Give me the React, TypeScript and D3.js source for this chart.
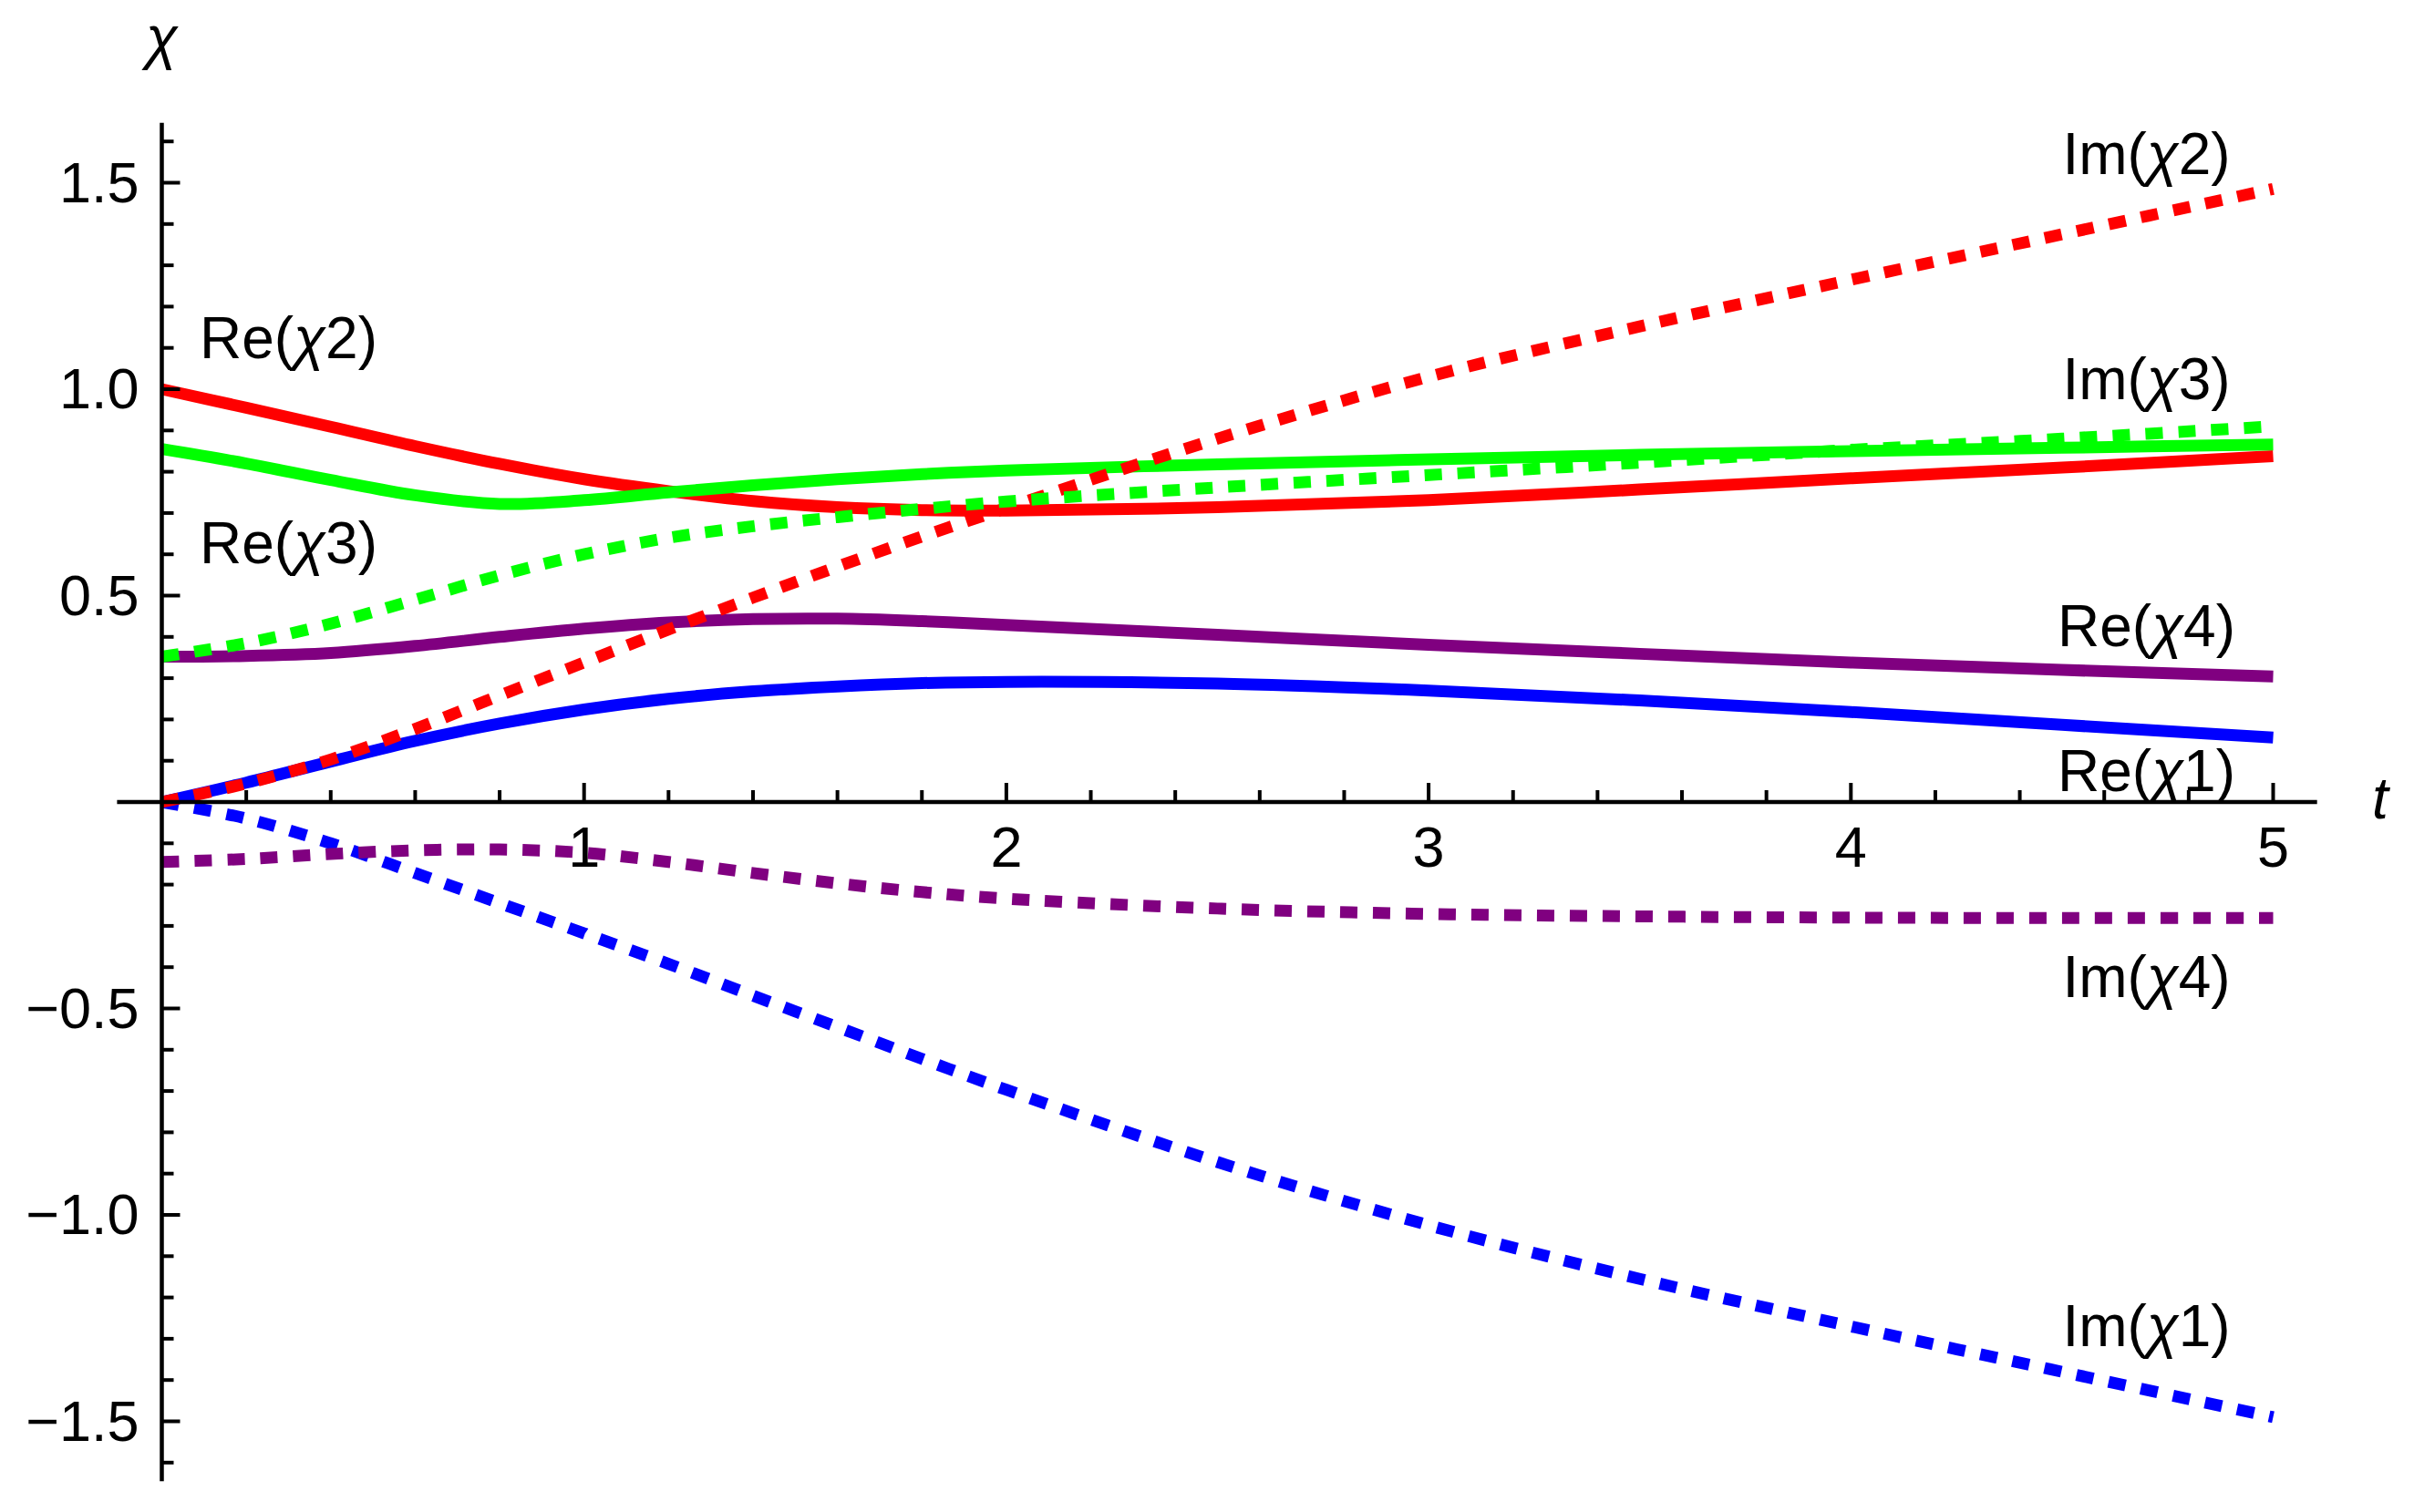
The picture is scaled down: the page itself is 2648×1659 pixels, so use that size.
import React from "react";
import * as d3 from "d3";

// time grid shared by every curve
const tGrid = [0, 0.2, 0.4, 0.6, 0.8, 1.0, 1.2, 1.4, 1.6, 1.8, 2.0, 2.5, 3.0, 3.5, 4.0, 4.5, 5.0];

const reChi1 = [0, 0.047, 0.098, 0.148, 0.19, 0.224, 0.25, 0.268, 0.28, 0.288, 0.291, 0.287, 0.27, 0.246, 0.218, 0.187, 0.156];
const imChi1 = [0, -0.04, -0.1, -0.172, -0.245, -0.318, -0.392, -0.469, -0.545, -0.622, -0.697, -0.872, -1.025, -1.155, -1.27, -1.38, -1.49];
const reChi2 = [1.0, 0.955, 0.909, 0.862, 0.819, 0.782, 0.753, 0.729, 0.714, 0.707, 0.706, 0.714, 0.731, 0.757, 0.784, 0.81, 0.838];
const imChi2 = [0, 0.045, 0.103, 0.177, 0.258, 0.338, 0.418, 0.495, 0.57, 0.643, 0.712, 0.88, 1.03, 1.152, 1.265, 1.375, 1.485];
const reChi3 = [0.855, 0.82, 0.78, 0.743, 0.722, 0.731, 0.75, 0.767, 0.782, 0.794, 0.803, 0.818, 0.83, 0.841, 0.85, 0.858, 0.866];
const imChi3 = [0.352, 0.385, 0.432, 0.49, 0.549, 0.6, 0.64, 0.668, 0.69, 0.71, 0.728, 0.762, 0.792, 0.822, 0.853, 0.88, 0.91];
const reChi4 = [0.352, 0.354, 0.361, 0.378, 0.4, 0.42, 0.435, 0.443, 0.444, 0.438, 0.429, 0.405, 0.381, 0.359, 0.338, 0.32, 0.304];
const imChi4 = [-0.145, -0.138, -0.126, -0.117, -0.115, -0.123, -0.145, -0.172, -0.197, -0.218, -0.234, -0.258, -0.271, -0.277, -0.28, -0.281, -0.281];

// drawing order: real parts first, then imaginary parts
const series = [
  { name: "Re1", values: reChi1, color: "#0000FF", dashed: false },
  { name: "Re2", values: reChi2, color: "#FF0000", dashed: false },
  { name: "Re3", values: reChi3, color: "#00FF00", dashed: false },
  { name: "Re4", values: reChi4, color: "#800080", dashed: false },
  { name: "Im1", values: imChi1, color: "#0000FF", dashed: true },
  { name: "Im2", values: imChi2, color: "#FF0000", dashed: true },
  { name: "Im3", values: imChi3, color: "#00FF00", dashed: true },
  { name: "Im4", values: imChi4, color: "#800080", dashed: true },
];

// curve labels: prefix, index, position (t, value at baseline)
const labelPrefix = ["Re", "Re", "Im", "Im", "Re", "Re", "Im", "Im"];
const labelIndex = ["2", "3", "2", "3", "4", "1", "4", "1"];
const labelT = [0.3, 0.3, 4.7, 4.7, 4.7, 4.7, 4.7, 4.7];
const labelY = [1.075, 0.578, 1.521, 0.976, 0.377, 0.026, -0.472, -1.318];

const xMajor = [1, 2, 3, 4, 5];
const yMajor = [-1.5, -1.0, -0.5, 0.5, 1.0, 1.5];

const W = 2648;
const H = 1659;
const FONT = "'Liberation Sans', Arial, sans-serif";

export default function App() {
  const x = d3.scaleLinear().domain([0, 5]).range([177.5, 2493.5]);
  const y = d3.scaleLinear().domain([0, 1]).range([880, 427]);

  const line = d3
    .line<[number, number]>()
    .x((d) => x(d[0]))
    .y((d) => y(d[1]))
    .curve(d3.curveCatmullRom.alpha(0.5));

  const xMinor = d3.range(1, 26).map((i) => +(i * 0.2).toFixed(1));
  const yMinor = d3.range(-16, 17).filter((i) => i !== 0).map((i) => +(i * 0.1).toFixed(1));
  const fmt = d3.format(".1f");

  const x0 = x(0);
  const y0 = y(0);

  return (
    <svg
      width={W}
      height={H}
      style={{ position: "absolute", left: 0, top: 0, background: "#fff" }}
      fontFamily={FONT}
    >
      <defs>
        <clipPath id="aboveAxis">
          <rect x={0} y={0} width={W} height={y0 - 2} />
        </clipPath>
      </defs>

      {/* curves */}
      {series.map((s) => (
        <path
          key={s.name}
          d={line(tGrid.map((t, i) => [t, s.values[i]] as [number, number])) || ""}
          fill="none"
          stroke={s.color}
          strokeWidth={13}
          strokeDasharray={s.dashed ? "19 17" : undefined}
        />
      ))}

      {/* axes */}
      <line x1={x(-0.106)} x2={x(5.104)} y1={y0} y2={y0} stroke="#000" strokeWidth={4.5} />
      <line x1={x0} x2={x0} y1={y(1.645)} y2={y(-1.645)} stroke="#000" strokeWidth={4.5} />

      {xMinor.map((t) => {
        const major = Number.isInteger(t);
        return (
          <line key={"xt" + t} x1={x(t)} x2={x(t)} y1={y0} y2={y0 - (major ? 21 : 13)} stroke="#000" strokeWidth={4} />
        );
      })}
      {yMinor.map((v) => {
        const major = Math.abs(v * 2 - Math.round(v * 2)) < 1e-6;
        return (
          <line key={"yt" + v} x1={x0} x2={x0 + (major ? 20 : 13)} y1={y(v)} y2={y(v)} stroke="#000" strokeWidth={4} />
        );
      })}

      {xMajor.map((t) => (
        <text key={"xl" + t} x={x(t)} y={y0 + 71} fontSize={63} textAnchor="middle">
          {t}
        </text>
      ))}
      {yMajor.map((v) => (
        <text key={"yl" + v} x={x0 - 25} y={y(v) + 21} fontSize={63} textAnchor="end">
          {fmt(v)}
        </text>
      ))}

      {/* axis titles */}
      <text x={x0} y={63} fontSize={64} fontStyle="italic" textAnchor="middle">
        χ
      </text>
      <text x={2611} y={898} fontSize={64} fontStyle="italic" textAnchor="middle">
        t
      </text>

      {/* curve labels */}
      {labelPrefix.map((p, i) => (
        <text
          key={"lab" + i}
          x={x(labelT[i])}
          y={y(labelY[i])}
          fontSize={64}
          textAnchor="middle"
          clipPath={labelY[i] < 0.1 && labelY[i] > 0 ? "url(#aboveAxis)" : undefined}
        >
          {p}(<tspan fontStyle="italic">χ</tspan>
          {labelIndex[i]})
        </text>
      ))}
    </svg>
  );
}
